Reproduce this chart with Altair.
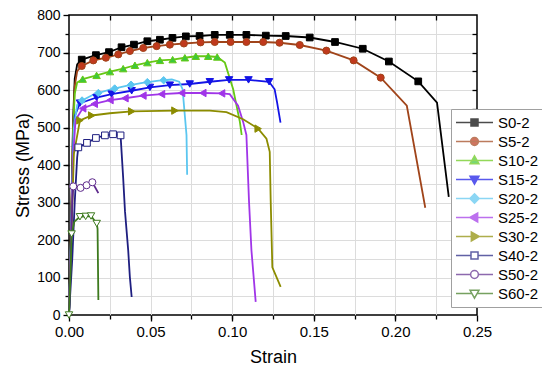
import altair as alt
import pandas as pd

SERIES = ["S0-2", "S5-2", "S10-2", "S15-2", "S20-2", "S25-2", "S30-2", "S40-2", "S50-2", "S60-2"]

# ---- curves (strain, stress MPa) ----
S0_LINE = [(0, 0), (0.0015, 300), (0.0025, 520), (0.0035, 630), (0.005, 668), (0.0078, 681), (0.0165, 693),
           (0.0245, 701), (0.0322, 714), (0.0398, 721), (0.048, 730), (0.0557, 734), (0.0634, 739), (0.0716, 743),
           (0.080, 744), (0.0893, 747), (0.0985, 747), (0.1087, 747), (0.1206, 745), (0.1328, 744), (0.1475, 740),
           (0.163, 728), (0.180, 710), (0.196, 676), (0.214, 623), (0.2255, 566), (0.2327, 315)]
S0_MARK = [(0.0078, 681), (0.0165, 693), (0.0245, 701), (0.0322, 714), (0.0398, 721), (0.048, 730), (0.0557, 734),
           (0.0634, 739), (0.0716, 743), (0.080, 744), (0.0893, 747), (0.0985, 747), (0.1087, 747), (0.1206, 745),
           (0.1328, 744), (0.1475, 740), (0.163, 728), (0.180, 710), (0.196, 676), (0.214, 623)]

S5_LINE = [(0, 0), (0.0015, 280), (0.0025, 500), (0.0035, 610), (0.005, 650), (0.0078, 664), (0.0149, 679),
           (0.0226, 686), (0.0302, 695), (0.0373, 704), (0.0455, 712), (0.0537, 717), (0.0618, 721), (0.0704, 724),
           (0.0806, 727), (0.0893, 728), (0.099, 728), (0.1087, 728), (0.119, 728), (0.129, 726), (0.1414, 720),
           (0.1577, 705), (0.1744, 679), (0.191, 633), (0.207, 558), (0.2183, 286)]
S5_MARK = [(0.0078, 664), (0.0149, 679), (0.0226, 686), (0.0302, 695), (0.0373, 704), (0.0455, 712), (0.0537, 717),
           (0.0618, 721), (0.0704, 724), (0.0806, 727), (0.0893, 728), (0.099, 728), (0.1087, 728), (0.119, 728),
           (0.129, 726), (0.1414, 720), (0.1577, 705), (0.1744, 679), (0.191, 633)]

S10_LINE = [(0, 0), (0.0015, 260), (0.0025, 480), (0.0035, 590), (0.005, 620), (0.0084, 629), (0.0169, 639),
            (0.0251, 649), (0.0332, 657), (0.0404, 666), (0.048, 673), (0.0557, 679), (0.0635, 681), (0.071, 686),
            (0.0777, 690), (0.0853, 690), (0.0908, 688), (0.0955, 673), (0.1006, 602), (0.1047, 515), (0.1058, 480)]
S10_MARK = [(0.0084, 629), (0.0169, 639), (0.0251, 649), (0.0332, 657), (0.0404, 666), (0.048, 673), (0.0557, 679),
            (0.0635, 681), (0.071, 686), (0.0777, 690), (0.0853, 690), (0.0908, 688)]

S15_LINE = [(0, 0), (0.0015, 250), (0.0025, 450), (0.0035, 530), (0.0067, 565), (0.0169, 580), (0.0261, 589),
            (0.0384, 598), (0.0496, 607), (0.0618, 613), (0.074, 616), (0.0863, 622), (0.0981, 627), (0.110, 627),
            (0.1226, 622), (0.126, 602), (0.1275, 567), (0.1296, 513)]
S15_MARK = [(0.0067, 565), (0.0169, 580), (0.0261, 589), (0.0384, 598), (0.0496, 607), (0.0618, 613), (0.074, 616),
            (0.0863, 622), (0.0981, 627), (0.110, 627), (0.1226, 622)]

S20_LINE = [(0, 0), (0.0015, 250), (0.003, 500), (0.005, 560), (0.008, 572), (0.015, 588), (0.025, 601),
            (0.035, 611), (0.045, 619), (0.055, 625), (0.063, 628), (0.0675, 622), (0.0696, 602), (0.072, 480),
            (0.0724, 374)]
S20_MARK = [(0.008, 572), (0.018, 592), (0.028, 604), (0.038, 614), (0.048, 621), (0.058, 626)]

S25_LINE = [(0, 0), (0.0015, 230), (0.0025, 420), (0.004, 520), (0.0084, 551), (0.0155, 563), (0.0251, 573),
            (0.0343, 578), (0.0453, 585), (0.0567, 589), (0.069, 592), (0.082, 592), (0.0935, 591), (0.0985, 589),
            (0.1036, 558), (0.1067, 515), (0.1087, 480), (0.1103, 303), (0.1118, 172), (0.1144, 35)]
S25_MARK = [(0.0084, 551), (0.0155, 563), (0.0251, 573), (0.0343, 578), (0.0453, 585), (0.0567, 589), (0.069, 592),
            (0.082, 592), (0.0935, 591)]

S30_LINE = [(0, 0), (0.0015, 220), (0.003, 430), (0.0067, 519), (0.0139, 532), (0.025, 538), (0.0384, 543),
            (0.0649, 545), (0.0863, 545), (0.0965, 541), (0.1067, 522), (0.1159, 497), (0.121, 470), (0.123, 435),
            (0.1236, 303), (0.1246, 127), (0.1297, 75)]
S30_MARK = [(0.0067, 519), (0.0139, 532), (0.0384, 543), (0.0649, 545), (0.1159, 497)]

S40_LINE = [(0, 0), (0.002, 150), (0.0035, 300), (0.005, 420), (0.0057, 447), (0.011, 459), (0.0165, 472),
            (0.022, 479), (0.027, 482), (0.0316, 479), (0.0332, 365), (0.0343, 277), (0.0363, 171), (0.0373, 101),
            (0.0384, 48)]
S40_MARK = [(0.0057, 447), (0.011, 459), (0.0165, 472), (0.022, 479), (0.027, 482), (0.0316, 479)]

S50_LINE = [(0, 0), (0.001, 150), (0.002, 300), (0.0026, 343), (0.0071, 339), (0.0108, 346), (0.0143, 354),
            (0.018, 325)]
S50_MARK = [(0.0026, 343), (0.0071, 339), (0.0108, 346), (0.0143, 354)]

S60_LINE = [(0, 0), (0.001, 120), (0.0016, 216), (0.0033, 249), (0.0067, 262), (0.0102, 263), (0.0135, 264),
            (0.017, 244), (0.0175, 230), (0.018, 40)]
S60_MARK = [(0, 0), (0.0016, 216), (0.0067, 262), (0.0102, 263), (0.0135, 264), (0.017, 244)]

LINES = [S0_LINE, S5_LINE, S10_LINE, S15_LINE, S20_LINE, S25_LINE, S30_LINE, S40_LINE, S50_LINE, S60_LINE]
MARKS = [S0_MARK, S5_MARK, S10_MARK, S15_MARK, S20_MARK, S25_MARK, S30_MARK, S40_MARK, S50_MARK, S60_MARK]

LINE_COLORS = ["#000000", "#A0441A", "#66C814", "#1414E6", "#5BC6F0", "#A035E8", "#8C8C00", "#1F1F80",
               "#5E2A8C", "#3D7A1E"]
MARK_FILLS = ["#000000", "#C0391D", "#3CC83C", "#1414E6", "#5BC6F0", "#A035E8", "#8C8C00", "#FFFFFF",
              "#FFFFFF", "#FFFFFF"]
SHAPES = ["square", "circle", "triangle-up", "triangle-down", "diamond", "triangle-left", "triangle-right",
          "square", "circle", "triangle-down"]
SIZES = [45, 50, 55, 55, 55, 55, 55, 45, 50, 55]

X_MAJOR = [0.0, 0.05, 0.10, 0.15, 0.20, 0.25]
X_ALL = [0.025, 0.05, 0.075, 0.10, 0.125, 0.15, 0.175, 0.20, 0.225]
Y_MAJOR = [0, 100, 200, 300, 400, 500, 600, 700, 800]
Y_ALL = [50, 100, 150, 200, 250, 300, 350, 400, 450, 500, 550, 600, 650, 700, 750]


# legend symbols: line segment + marker (unit box = 37px wide)
def _poly(pts):
    return "M" + "L".join(f"{x},{y}" for x, y in pts) + "Z"


def _legend_path(shape, open_):
    h = 0.19
    if shape == "square":
        m = f"M{-h},{-h}H{h}V{h}H{-h}Z"; gap = h
    elif shape == "circle":
        r = 0.21
        m = f"M{r},0A{r},{r},0,1,1,{-r},0A{r},{r},0,1,1,{r},0Z"; gap = r
    elif shape == "triangle-up":
        m = _poly([(0, -0.25), (0.24, 0.17), (-0.24, 0.17)]); gap = 0.14
    elif shape == "triangle-down":
        m = _poly([(0, 0.25), (0.24, -0.17), (-0.24, -0.17)]); gap = 0.14
    elif shape == "diamond":
        m = _poly([(0, -0.25), (0.25, 0), (0, 0.25), (-0.25, 0)]); gap = 0.25
    elif shape == "triangle-left":
        m = _poly([(-0.25, 0), (0.17, -0.24), (0.17, 0.24)]); gap = 0.2
    else:
        m = _poly([(0.25, 0), (-0.17, -0.24), (-0.17, 0.24)]); gap = 0.2
    line = f"M-1,0H{-gap}M{gap},0H1" if open_ else "M-1,0H1"
    return line + m


LEGEND_PATHS = [_legend_path(s, f == "#FFFFFF") for s, f in zip(SHAPES, MARK_FILLS)]

rows = []
for name, pts in zip(SERIES, LINES):
    for i, (sx, sy) in enumerate(pts):
        rows.append({"series": name, "order": i, "strain": sx, "stress": sy})
df_lines = pd.DataFrame(rows)

mrows = []
for name, pts in zip(SERIES, MARKS):
    for sx, sy in pts:
        mrows.append({"series": name, "strain": sx, "stress": sy})
df_marks = pd.DataFrame(mrows)

XS = alt.Scale(domain=[0, 0.25], nice=False, zero=False, padding=0)
YS = alt.Scale(domain=[0, 800], nice=False, padding=0)
stroke_scale = alt.Scale(domain=SERIES, range=LINE_COLORS)
fill_scale = alt.Scale(domain=SERIES, range=MARK_FILLS)
shape_scale = alt.Scale(domain=SERIES, range=LEGEND_PATHS)

FONT = "Liberation Sans"

ax_x_major = alt.Axis(orient="bottom", values=X_MAJOR, format=".2f", tickSize=6, grid=False, domain=False,
                      title="Strain", labelFontSize=15, titleFontSize=18, labelPadding=3, titlePadding=9,
                      titleFontWeight="normal", labelFlush=False, labelOverlap=False)
ax_y_major = alt.Axis(orient="left", values=Y_MAJOR, format="d", tickSize=6, grid=False, domain=False,
                      title="Stress (MPa)", labelFontSize=14, titleFontSize=18, labelPadding=3, titlePadding=4,
                      titleFontWeight="normal", labelFlush=False, labelOverlap=False)
ax_x_minor = alt.Axis(orient="bottom", values=X_ALL, tickSize=4, labels=False, grid=True, domain=False, title=None)
ax_y_minor = alt.Axis(orient="left", values=Y_ALL, tickSize=4, labels=False, grid=True, domain=False, title=None)
ax_x_top = alt.Axis(orient="top", values=X_ALL, tickSize=5, offset=-5, labels=False, grid=False, domain=False,
                    title=None)
ax_y_right = alt.Axis(orient="right", values=Y_ALL, tickSize=5, offset=-5, labels=False, grid=False, domain=False,
                      title=None)

AXES = {0: (ax_x_major, ax_y_major), 1: (ax_x_minor, ax_y_minor), 2: (ax_x_top, ax_y_right)}

layers = []
for i, name in enumerate(SERIES):
    ax, ay = AXES.get(i, (None, None))
    ln = alt.Chart(df_lines).transform_filter(alt.datum.series == name).mark_line(
        strokeWidth=1.8, stroke=LINE_COLORS[i]
    ).encode(
        x=alt.X("strain:Q", scale=XS, axis=ax),
        y=alt.Y("stress:Q", scale=YS, axis=ay),
        order="order:Q",
    )
    layers.append(ln)

for i, name in enumerate(SERIES):
    pts = alt.Chart(df_marks).transform_filter(alt.datum.series == name).mark_point(
        shape=SHAPES[i], filled=True, fill=MARK_FILLS[i], stroke=LINE_COLORS[i], strokeWidth=1,
        size=SIZES[i], opacity=1, fillOpacity=1,
    ).encode(
        x=alt.X("strain:Q", scale=XS, axis=None),
        y=alt.Y("stress:Q", scale=YS, axis=None),
    )
    layers.append(pts)

leg = alt.Legend(orient="none", legendX=382, legendY=94, title=None, padding=4, rowPadding=0, clipHeight=19,
                 symbolSize=1369, symbolStrokeWidth=1.5, labelFontSize=15, labelFont=FONT, labelOffset=4,
                 strokeColor="#A0A0A0", fillColor="#FFFFFF", cornerRadius=0, symbolFillColor="#FFFFFF",
                 labelColor="#000000")

legend_layer = alt.Chart(df_marks).transform_filter("false").mark_point(filled=True).encode(
    x=alt.X("strain:Q", scale=XS, axis=None),
    y=alt.Y("stress:Q", scale=YS, axis=None),
    shape=alt.Shape("series:N", scale=shape_scale, legend=leg),
    fill=alt.Fill("series:N", scale=fill_scale, legend=leg),
    stroke=alt.Stroke("series:N", scale=stroke_scale, legend=leg),
)
layers.append(legend_layer)

chart = alt.layer(*layers).resolve_axis(x="independent", y="independent").properties(
    width=408, height=300,
    padding={"left": 61, "top": 7, "right": 65, "bottom": 52},
    autosize=alt.AutoSizeParams(type="none"),
).configure_view(stroke="#000000", strokeWidth=1.5).configure_axis(
    labelFont=FONT, titleFont=FONT, labelColor="#000000", titleColor="#000000",
    tickColor="#000000", tickWidth=1.3, gridColor="#DCDCDC", gridWidth=1,
)

chart.save("out.html", embed_options={"renderer": "svg", "actions": False})
